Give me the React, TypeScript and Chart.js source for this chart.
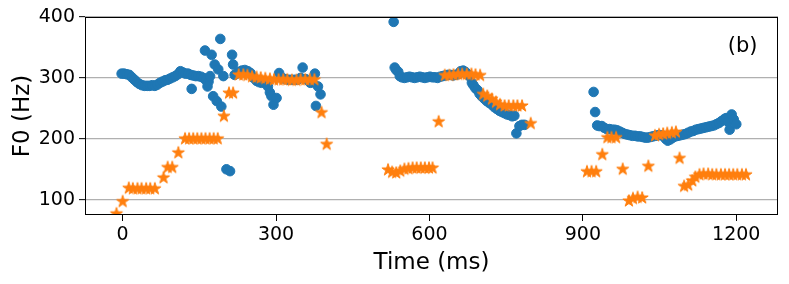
import React, { useEffect, useRef } from 'react';
import { Chart, registerables } from 'chart.js';

Chart.register(...registerables);

const xTicks = [0, 300, 600, 900, 1200];
const yTicks = [100, 200, 300, 400];
const xLimits = [-73.6, 1281.6];
const yLimits = [75, 400];
const xLabel = 'Time (ms)';
const yLabel = 'F0 (Hz)';
const panelLabel = '(b)';

// [time ms, F0 Hz]
const blueSeg1: [number, number][] = [
  [-2, 307], [3, 307], [8, 306], [13, 305], [18, 301], [23, 297], [28, 293], [33, 290], [38, 288], [43, 287],
  [48, 287], [53, 287], [58, 288], [63, 287], [68, 289], [73, 292], [78, 294], [83, 296], [88, 297], [93, 299],
  [98, 301], [103, 303], [108, 306], [113, 311], [118, 309], [123, 307], [128, 307], [133, 305], [138, 304],
  [143, 303], [148, 303], [153, 302], [158, 300], [163, 296], [168, 294], [135, 282], [161, 345], [166, 286],
  [171, 303], [174, 338], [177, 270], [180, 322], [184, 262], [187, 314], [191, 364], [193, 253], [197, 303],
  [203, 150], [210, 147], [214, 338], [216, 322], [219, 305], [223, 307], [228, 310], [233, 312], [239, 313],
  [245, 311], [250, 308], [256, 300], [262, 295], [267, 293], [272, 292], [278, 293], [284, 286], [288, 276],
  [291, 270], [295, 256], [301, 267], [306, 308], [312, 300], [318, 298], [324, 297], [330, 297], [336, 297],
  [342, 297], [348, 300], [352, 317], [358, 298], [364, 295], [367, 292], [371, 293], [376, 307], [382, 286],
  [387, 273], [378, 254],
];

const blueSeg2: [number, number][] = [
  [530, 392], [532, 317], [535, 313], [539, 310], [542, 303], [546, 301], [551, 300], [556, 301], [561, 302],
  [566, 301], [571, 300], [576, 301], [581, 302], [586, 301], [591, 300], [596, 301], [601, 302], [606, 301],
  [611, 301], [616, 300], [621, 302], [626, 303], [631, 304], [636, 305], [641, 305], [646, 304], [651, 305],
  [656, 306], [661, 311], [666, 312], [670, 310], [675, 306], [679, 302], [683, 292], [686, 288], [690, 283],
  [694, 280], [698, 274], [702, 270], [707, 266], [712, 262], [717, 259], [722, 256], [727, 252], [732, 249],
  [737, 246], [742, 244], [747, 242], [752, 240], [757, 239], [762, 237], [766, 238], [770, 209], [776, 221],
  [781, 223], [786, 223],
];

const blueSeg3: [number, number][] = [
  [921, 277], [924, 244], [928, 222], [932, 221], [937, 221], [942, 218], [947, 216], [952, 216], [957, 215],
  [962, 215], [967, 214], [972, 212], [977, 210], [982, 208], [987, 207], [992, 206], [997, 205], [1002, 205],
  [1007, 204], [1012, 204], [1017, 203], [1022, 202], [1027, 202], [1032, 203], [1037, 204], [1042, 205],
  [1047, 206], [1052, 206], [1057, 205], [1062, 200], [1066, 197], [1071, 199], [1076, 202], [1081, 204],
  [1086, 205], [1091, 206], [1096, 207], [1101, 208], [1106, 210], [1111, 212], [1116, 213], [1121, 215],
  [1126, 216], [1131, 217], [1136, 218], [1141, 219], [1146, 220], [1151, 221], [1156, 222], [1161, 224],
  [1166, 226], [1171, 229], [1176, 232], [1180, 234], [1184, 228], [1187, 215], [1191, 240], [1195, 232],
  [1200, 224],
];

const orangeSeg1: [number, number][] = [
  [-12, 77], [0, 97], [12, 119], [20, 118], [29, 118], [37, 118], [46, 118], [54, 118], [63, 118],
  [80, 136], [88, 153], [97, 153], [109, 177], [122, 200], [130, 200], [138, 200], [146, 200], [154, 200],
  [162, 200], [170, 200], [178, 200], [186, 200], [198, 237], [208, 275], [216, 275], [227, 305], [236, 305],
  [244, 304], [253, 302], [262, 301], [270, 300], [279, 299], [288, 298], [296, 297], [305, 297], [314, 297],
  [322, 297], [331, 296], [340, 296], [348, 297], [357, 297], [366, 297], [375, 297], [389, 243], [399, 191],
];

const orangeSeg2: [number, number][] = [
  [519, 149], [527, 145], [535, 144], [543, 147], [551, 150], [559, 151], [567, 152], [575, 152], [583, 152],
  [591, 152], [599, 152], [606, 152], [618, 228], [630, 304], [639, 304], [647, 305], [656, 306], [664, 306],
  [673, 306], [682, 306], [690, 305], [699, 304], [705, 273], [713, 270], [722, 265], [730, 260], [738, 256],
  [747, 254], [755, 254], [764, 254], [772, 254], [781, 254], [798, 225],
];

const orangeSeg3: [number, number][] = [
  [908, 146], [917, 146], [926, 146], [938, 174], [948, 202], [956, 202], [965, 202], [978, 150], [990, 98],
  [998, 102], [1007, 104], [1016, 103], [1028, 155], [1041, 205], [1049, 207], [1057, 208], [1065, 209],
  [1074, 210], [1082, 211], [1089, 168], [1098, 122], [1106, 124], [1114, 131], [1120, 137], [1128, 141],
  [1136, 142], [1145, 142], [1153, 141], [1161, 141], [1170, 141], [1178, 141], [1186, 141], [1194, 141],
  [1202, 141], [1211, 141], [1219, 141],
];

const BLUE = '#1f77b4';
const ORANGE = '#ff7f0e';
const FONT = '"DejaVu Sans", sans-serif';

function makeStar(color: string, R: number, lw: number) {
  const half = Math.ceil(R + lw + 1);
  const size = half * 2;
  const c = document.createElement('canvas');
  c.width = size;
  c.height = size;
  const g = c.getContext('2d')!;
  g.beginPath();
  for (let i = 0; i < 10; i++) {
    const r = i % 2 === 0 ? R : R * 0.381966;
    const a = -Math.PI / 2 + (i * Math.PI) / 5;
    const px = half + r * Math.cos(a);
    const py = half + r * Math.sin(a);
    if (i === 0) g.moveTo(px, py);
    else g.lineTo(px, py);
  }
  g.closePath();
  g.fillStyle = color;
  g.fill();
  g.lineWidth = lw;
  g.strokeStyle = color;
  g.lineJoin = 'miter';
  g.stroke();
  return c;
}

const toPts = (arr: [number, number][]) => arr.map(([x, y]) => ({ x, y }));

const framePlugin = {
  id: 'frame',
  afterDraw(chart: any) {
    const { ctx, chartArea: a } = chart;
    ctx.save();
    ctx.strokeStyle = '#000';
    ctx.lineWidth = 1;
    const l = Math.round(a.left) + 0.5;
    const t = Math.round(a.top) + 0.5;
    const r = Math.round(a.right) - 0.5;
    const b = Math.round(a.bottom) - 0.5;
    ctx.strokeRect(l, t, r - l, b - t);
    ctx.fillStyle = '#000';
    ctx.font = `21px ${FONT}`;
    ctx.textAlign = 'center';
    ctx.textBaseline = 'middle';
    ctx.fillText(panelLabel, a.left + 0.949 * (a.right - a.left), a.bottom - 0.851 * (a.bottom - a.top));
    ctx.restore();
  },
};

export default function App() {
  const ref = useRef<HTMLCanvasElement>(null);
  useEffect(() => {
    if (!ref.current) return;
    const star = makeStar(ORANGE, 6.4, 1);
    const chart = new Chart(ref.current, {
      type: 'scatter',
      data: {
        datasets: [
          {
            label: 'orange',
            data: toPts([...orangeSeg1, ...orangeSeg2, ...orangeSeg3]),
            pointStyle: star as any,
            backgroundColor: ORANGE,
            borderColor: ORANGE,
            order: 0,
            clip: 0,
          },
          {
            label: 'blue',
            data: toPts([...blueSeg1, ...blueSeg2, ...blueSeg3]),
            pointStyle: 'circle',
            pointRadius: 4.8,
            pointBorderWidth: 1,
            backgroundColor: BLUE,
            borderColor: BLUE,
            order: 1,
            clip: 0,
          },
        ],
      },
      options: {
        animation: false,
        responsive: false,
        devicePixelRatio: 1,
        layout: { padding: { top: 17, right: 11, left: 0, bottom: 0 } },
        plugins: { legend: { display: false }, tooltip: { enabled: false } },
        scales: {
          x: {
            type: 'linear',
            min: xLimits[0],
            max: xLimits[1],
            afterBuildTicks: (s: any) => {
              s.ticks = xTicks.map((v) => ({ value: v }));
            },
            afterFit: (s: any) => {
              s.height = 69;
            },
            ticks: {
              font: { family: FONT, size: 19 },
              color: '#000',
              padding: 3,
              maxRotation: 0,
              autoSkip: false,
              callback: (v: any) => String(v),
            },
            grid: {
              display: true,
              drawOnChartArea: false,
              drawTicks: true,
              tickLength: 6,
              tickColor: '#000',
              tickWidth: 1,
            },
            border: { display: false },
            title: {
              display: true,
              text: xLabel,
              color: '#000',
              font: { family: FONT, size: 23 },
              padding: { top: 0, bottom: 7 },
            },
          },
          y: {
            type: 'linear',
            min: yLimits[0],
            max: yLimits[1],
            afterBuildTicks: (s: any) => {
              s.ticks = yTicks.map((v) => ({ value: v }));
            },
            afterFit: (s: any) => {
              s.width = 85;
            },
            ticks: {
              font: { family: FONT, size: 19 },
              color: '#000',
              padding: 4,
              autoSkip: false,
              callback: (v: any) => String(v),
            },
            grid: {
              display: true,
              drawOnChartArea: true,
              drawTicks: true,
              tickLength: 6,
              color: '#b0b0b0',
              lineWidth: 1.3,
              tickColor: '#000',
              tickWidth: 1,
            },
            border: { display: false },
            title: {
              display: true,
              text: yLabel,
              color: '#000',
              font: { family: FONT, size: 23 },
              padding: { top: 9, bottom: 0 },
            },
          },
        },
      },
      plugins: [framePlugin],
    } as any);
    return () => chart.destroy();
  }, []);
  return (
    <div style={{ position: 'absolute', left: 0, top: 0, width: 789, height: 284 }}>
      <canvas ref={ref} width={789} height={284} style={{ width: 789, height: 284, display: 'block' }} />
    </div>
  );
}
